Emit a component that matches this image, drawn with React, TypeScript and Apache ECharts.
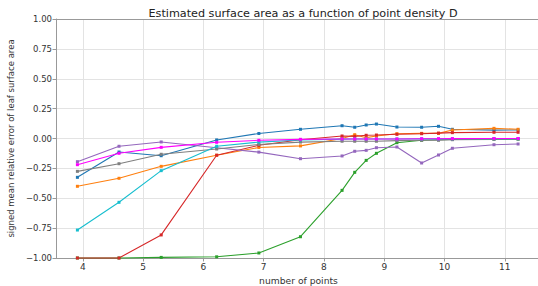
import React, { useEffect, useRef } from "react";
import * as echarts from "echarts";

const xs = [3.91, 4.6, 5.3, 6.22, 6.92, 7.61, 8.3, 8.51, 8.7, 8.87, 9.21, 9.62, 9.9, 10.13, 10.82, 11.22];

const blue = [-0.325, -0.113, -0.144, -0.012, 0.042, 0.077, 0.107, 0.094, 0.113, 0.121, 0.096, 0.094, 0.102, 0.077, 0.07, 0.071];
const orange = [-0.4, -0.333, -0.233, -0.14, -0.075, -0.062, 0.0, 0.032, 0.007, 0.021, 0.04, 0.043, 0.043, 0.071, 0.085, 0.077];
const green = [-1, -1, -0.995, -0.99, -0.958, -0.822, -0.434, -0.283, -0.183, -0.124, -0.035, -0.015, -0.01, -0.008, -0.005, -0.005];
const red = [-1, -1, -0.807, -0.14, -0.057, -0.01, 0.021, 0.018, 0.027, 0.029, 0.035, 0.04, 0.045, 0.049, 0.052, 0.052];
const purple = [-0.194, -0.065, -0.029, -0.078, -0.114, -0.169, -0.146, -0.107, -0.099, -0.077, -0.071, -0.205, -0.138, -0.082, -0.052, -0.046];
const gray = [-0.275, -0.211, -0.132, -0.088, -0.05, -0.03, -0.023, -0.023, -0.023, -0.023, -0.018, -0.015, -0.015, -0.01, -0.008, -0.005];
const cyan = [-0.766, -0.534, -0.269, -0.065, -0.03, -0.012, -0.005, -0.004, -0.004, -0.004, -0.004, -0.003, -0.003, -0.002, -0.001, -0.001];
const magenta = [-0.219, -0.124, -0.074, -0.032, -0.015, -0.007, -0.004, -0.004, -0.004, -0.004, -0.004, -0.002, -0.002, -0.001, 0.0, 0.0];

const xTicks = [4, 5, 6, 7, 8, 9, 10, 11];

const seriesDefs = [
  { name: "series 1", color: "#1f77b4", values: blue },
  { name: "series 2", color: "#ff7f0e", values: orange },
  { name: "series 3", color: "#2ca02c", values: green },
  { name: "series 4", color: "#d62728", values: red },
  { name: "series 5", color: "#9467bd", values: purple },
  { name: "series 6", color: "#7f7f7f", values: gray },
  { name: "series 7", color: "#17becf", values: cyan },
  { name: "series 8", color: "#ff00ff", values: magenta },
];

const FONT = "DejaVu Sans";

export default function App() {
  const ref = useRef<HTMLDivElement>(null);
  useEffect(() => {
    if (!ref.current) return;
    const chart = echarts.init(ref.current, undefined, { renderer: "svg" });
    chart.setOption({
      animation: false,
      backgroundColor: "#ffffff",
      title: {
        text: "Estimated surface area as a function of point density D",
        left: 298,
        textAlign: "center",
        top: 3,
        textStyle: { fontFamily: FONT, fontSize: 11.2, fontWeight: "normal", color: "#222" },
      },
      grid: { left: 56, right: -3, top: 19, bottom: 28, containLabel: false, outerBoundsMode: "none" },
      xAxis: {
        type: "value",
        min: 3.555,
        max: 11.6,
        name: "number of points",
        nameLocation: "middle",
        nameGap: 17,
        nameTextStyle: { fontFamily: FONT, fontSize: 9.2, color: "#333" },
        axisLine: { show: true, onZero: false, lineStyle: { color: "#999", width: 1 } },
        axisTick: { show: true, length: 3.5, lineStyle: { color: "#999" }, customValues: xTicks },
        axisLabel: { fontFamily: FONT, fontSize: 9, color: "#333", margin: 4, customValues: xTicks },
        splitLine: { show: true, lineStyle: { color: "#e3e3e3", width: 1 } },
      },
      yAxis: {
        type: "value",
        min: -1,
        max: 1,
        interval: 0.25,
        name: "signed mean relative error of leaf surface area",
        nameLocation: "middle",
        nameRotate: 90,
        nameGap: 40,
        nameTextStyle: { fontFamily: FONT, fontSize: 8.5, color: "#333" },
        axisLine: { show: true, lineStyle: { color: "#999", width: 1 } },
        axisTick: { show: true, length: 3.5, lineStyle: { color: "#999" } },
        axisLabel: {
          fontFamily: FONT,
          fontSize: 8.5,
          color: "#333",
          margin: 4,
          formatter: (v: number) => (v < 0 ? "\u2212" + Math.abs(v).toFixed(2) : v.toFixed(2)),
        },
        splitLine: { show: true, lineStyle: { color: "#e3e3e3", width: 1 } },
      },
      graphic: [
        {
          type: "line",
          shape: { x1: 56, y1: 19.5, x2: 538, y2: 19.5 },
          style: { stroke: "#999", lineWidth: 1 },
          z: 10,
        },
      ],
      series: seriesDefs.map((s) => ({
        name: s.name,
        type: "line",
        data: xs.map((x, i) => [x, s.values[i]]),
        symbol: "rect",
        symbolSize: 3,
        clip: false,
        lineStyle: { color: s.color, width: 1.1 },
        itemStyle: { color: s.color },
      })),
    });
    return () => chart.dispose();
  }, []);
  return (
    <div
      ref={ref}
      style={{ position: "fixed", left: 0, top: 0, width: 538, height: 286 }}
    />
  );
}
